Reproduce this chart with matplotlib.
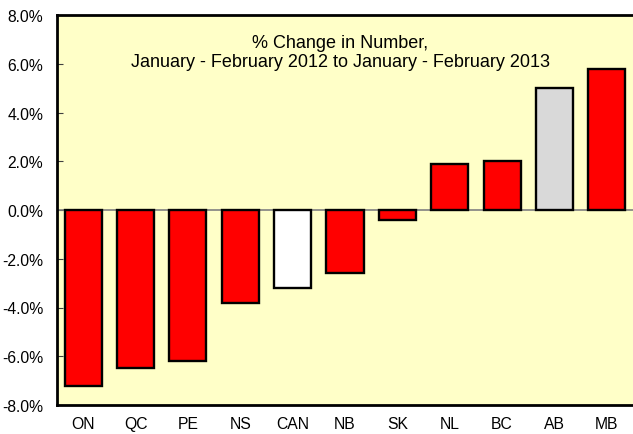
import matplotlib.pyplot as plt
import numpy as np
from matplotlib.ticker import FuncFormatter

# Values
provinces = ['ON', 'QC', 'PE', 'NS', 'CAN', 'NB', 'SK', 'NL', 'BC', 'AB', 'MB']
pct_change = [-7.2, -6.5, -6.2, -3.8, -3.2, -2.6, -0.4, 1.9, 2.0, 5.0, 5.8]
bar_colors = ['#ff0000', '#ff0000', '#ff0000', '#ff0000', '#ffffff', '#ff0000',
              '#ff0000', '#ff0000', '#ff0000', '#d9d9d9', '#ff0000']

plt.rcParams['font.family'] = ['Liberation Sans', 'DejaVu Sans']

fig = plt.figure(figsize=(6.33, 4.35), dpi=100)
ax = fig.add_axes([57 / 633, 29 / 435, 576 / 633, 390 / 435])
ax.set_facecolor('#ffffc8')

x = np.arange(len(provinces))
ax.bar(x, pct_change, width=0.71, color=bar_colors, edgecolor='black', linewidth=1.7, zorder=3)
ax.axhline(0, color='#808080', linewidth=1.2, zorder=2)

ax.set_xlim(-0.5, len(provinces) - 0.5)
ax.set_ylim(-8, 8)
ax.set_yticks(np.arange(-8, 9, 2))
ax.yaxis.set_major_formatter(FuncFormatter(lambda v, p: f'{v:.1f}%'))
ax.set_xticks(x)
ax.set_xticklabels(provinces)
ax.tick_params(axis='y', direction='in', length=4, color='#404040', labelsize=11.3, pad=10)
ax.tick_params(axis='x', length=0, labelsize=11.3, pad=8)

for side in ['left', 'bottom', 'top']:
    ax.spines[side].set_linewidth(2)
ax.spines['right'].set_visible(False)

ax.text(0.492, 0.952, '% Change in Number,\nJanuary - February 2012 to January - February 2013',
        transform=ax.transAxes, ha='center', va='top', fontsize=13, linespacing=1.15)

plt.savefig('out.png', dpi=100)
